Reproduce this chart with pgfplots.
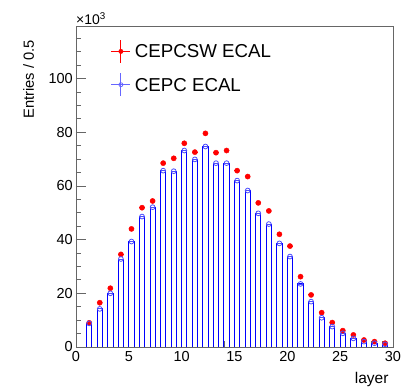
\documentclass[border=0pt]{standalone}
\usepackage{fontspec}
\setmainfont{Liberation Sans}
\usepackage{pgfplots}
\usepackage{pgfplotstable}
\pgfplotsset{compat=1.18}

% bin centres (bins of width 0.5 starting at each integer layer), values in 10^3 entries
\pgfplotstableread{
x     b     r
1.25  8.8   9.0
2.25  14.2  16.5
3.25  20.0  21.9
4.25  32.8  34.5
5.25  39.3  44.0
6.25  48.6  51.9
7.25  52.1  54.4
8.25  65.7  68.5
9.25  65.5  70.3
10.25 73.2  75.9
11.25 69.9  72.6
12.25 74.7  79.6
13.25 68.5  72.4
14.25 68.5  73.2
15.25 62.0  65.7
16.25 58.3  63.5
17.25 49.8  53.7
18.25 45.8  50.7
19.25 38.6  42.0
20.25 33.7  37.6
21.25 23.5  26.2
22.25 16.9  19.4
23.25 10.9  12.8
24.25 7.6   9.1
25.25 5.1   6.1
26.25 3.2   4.5
27.25 2.0   2.6
28.25 1.4   2.0
29.25 1.0   1.4
}\data

\begin{document}
\begin{tikzpicture}
\useasboundingbox (-76pt,-41pt) rectangle (329pt,347pt);
\begin{axis}[
  at={(0pt,0pt)}, anchor=south west,
  scale only axis, width=317pt, height=321pt,
  xmin=0, xmax=30, ymin=0, ymax=119.6,
  xtick={0,5,...,30}, ytick={0,20,...,100},
  minor xtick={1,...,29}, minor ytick={5,10,...,115},
  xtick pos=left, ytick pos=left,
  tick align=inside,
  major tick length=10pt, minor tick length=5.5pt,
  every tick/.style={black!60, line width=0.8pt},
  axis line style={black!60, line width=0.9pt},
  /pgf/number format/assume math mode=true,
  ticklabel style={font=\fontsize{14.5}{17}\selectfont},
  yticklabel style={inner sep=0pt, xshift=-3pt},
  xticklabel style={inner sep=0pt, yshift=-4pt},
  legend style={at={(0.1095,0.9589)}, anchor=north west, draw=none, fill=none,
    inner sep=0pt, row sep=9.3pt, column sep=4pt,
    nodes={inner sep=0pt, text depth=0pt},
    font=\fontsize{18.7}{22}\selectfont},
  legend cell align=left,
]
\addplot[only marks, mark=*, red, mark size=2.6pt,
  legend image code/.code={\draw[red, line width=1pt] (0pt,0pt) -- (19pt,0pt) (9.5pt,-11.5pt) -- (9.5pt,11.5pt); \fill[red] (9.5pt,0pt) circle (2.2pt);},
  error bars/.cd, x dir=both, x fixed=0.25, error mark=none,
  error bar style={red, line width=0.9pt}]
  table[x=x, y=r]{\data};
\addplot[const plot mark left, blue, line width=0.9pt, forget plot] coordinates {
(0,0) (1,8.8) (1.5,0) (2,14.2) (2.5,0) (3,20.0) (3.5,0) (4,32.8) (4.5,0)
(5,39.3) (5.5,0) (6,48.6) (6.5,0) (7,52.1) (7.5,0) (8,65.7) (8.5,0)
(9,65.5) (9.5,0) (10,73.2) (10.5,0) (11,69.9) (11.5,0) (12,74.7) (12.5,0)
(13,68.5) (13.5,0) (14,68.5) (14.5,0) (15,62.0) (15.5,0) (16,58.3) (16.5,0)
(17,49.8) (17.5,0) (18,45.8) (18.5,0) (19,38.6) (19.5,0) (20,33.7) (20.5,0)
(21,23.5) (21.5,0) (22,16.9) (22.5,0) (23,10.9) (23.5,0) (24,7.6) (24.5,0)
(25,5.1) (25.5,0) (26,3.2) (26.5,0) (27,2.0) (27.5,0) (28,1.4) (28.5,0)
(29,1.0) (29.5,0) (30,0)};
\addplot[only marks, mark=o, mark size=2.4pt, blue!70, line width=0.8pt,
  legend image code/.code={\draw[blue!60, line width=1pt] (0pt,0pt) -- (19pt,0pt) (9.5pt,-11.5pt) -- (9.5pt,11.5pt); \draw[blue!60, line width=0.8pt] (9.5pt,0pt) circle (2pt);},
  error bars/.cd, x dir=both, x fixed=0.25, error mark=none,
  error bar style={blue!70, line width=0.8pt}]
  table[x=x, y=b]{\data};
\legend{CEPCSW ECAL, CEPC ECAL}
\end{axis}
\node[rotate=90, anchor=base east, font=\fontsize{14.7}{17}\selectfont]
  at ([xshift=-42pt, yshift=-10.7pt]current axis.north west) {Entries / 0.5};
\node[anchor=base east, font=\fontsize{15.5}{18}\selectfont]
  at ([xshift=-1pt, yshift=-36.3pt]current axis.south east) {layer};
\node[anchor=base west, inner sep=0pt, font=\fontsize{14}{17}\selectfont]
  at ([yshift=1.5pt]current axis.north west) {×10\textsuperscript{3}};
\end{tikzpicture}
\end{document}
